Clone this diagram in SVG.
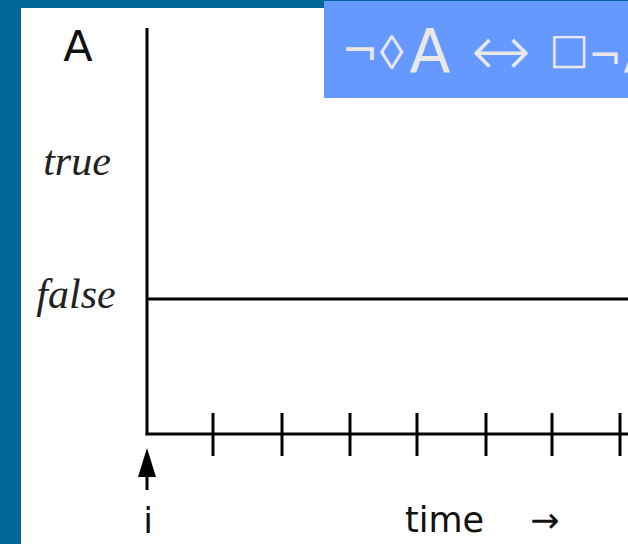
<svg xmlns="http://www.w3.org/2000/svg" width="628" height="544" viewBox="0 0 628 544">
<style>
.ax{stroke:#000;stroke-width:3;fill:none}
.sans{font-family:"DejaVu Sans","Liberation Sans",sans-serif;fill:#111}
.ital{font-family:"Liberation Serif","Times New Roman",serif;font-style:italic;fill:#222;font-size:42px;text-anchor:middle}
.ft{font-family:"DejaVu Sans",sans-serif;fill:#E8E8E8;text-anchor:middle}
.lt{font-weight:200}
</style>
<rect width="628" height="544" fill="#006699"/>
<rect x="21" y="8" width="607" height="536" fill="#FFFFFF"/>
<g id="formula">
<rect x="324" y="1" width="304" height="97" fill="#6699FF"/>
<text class="ft" x="360" y="66" font-size="44">¬</text>
<text class="ft lt" x="391.5" y="69" font-size="48">◊</text>
<text class="ft" x="430" y="72" font-size="60">A</text>
<text class="ft lt" x="501" y="76" font-size="72">↔</text>
<text class="ft" x="569" y="63" font-size="42">□</text>
<text class="ft" x="605" y="70" font-size="40">¬</text>
<text class="ft" x="644" y="72" font-size="60">A</text>
</g>
<g id="labels">
<text class="sans" x="78" y="61" font-size="43" text-anchor="middle">A</text>
<text class="ital" x="77" y="175">true</text>
<text class="ital" x="76" y="308">false</text>
<text class="sans" x="148" y="533" font-size="35" text-anchor="middle">i</text>
<text class="sans" x="405" y="532" font-size="35">time</text>
<text class="sans" x="545" y="532" font-size="35" text-anchor="middle">→</text>
</g>
<g id="axes">
<line class="ax" x1="147" y1="28" x2="147" y2="435"/>
<line class="ax" x1="145.5" y1="434" x2="628" y2="434"/>
<line class="ax" x1="147" y1="299" x2="628" y2="299"/>
</g>
<g id="ticks" class="ax">
<line x1="213" y1="413" x2="213" y2="456"/>
<line x1="282" y1="413" x2="282" y2="456"/>
<line x1="350" y1="413" x2="350" y2="456"/>
<line x1="417" y1="413" x2="417" y2="456"/>
<line x1="486" y1="413" x2="486" y2="456"/>
<line x1="552" y1="413" x2="552" y2="456"/>
<line x1="620" y1="413" x2="620" y2="456"/>
</g>
<g id="marker">
<line class="ax" x1="147" y1="468" x2="147" y2="490"/>
<polygon points="147,448 156,477 138,477" fill="#000"/>
</g>
</svg>
